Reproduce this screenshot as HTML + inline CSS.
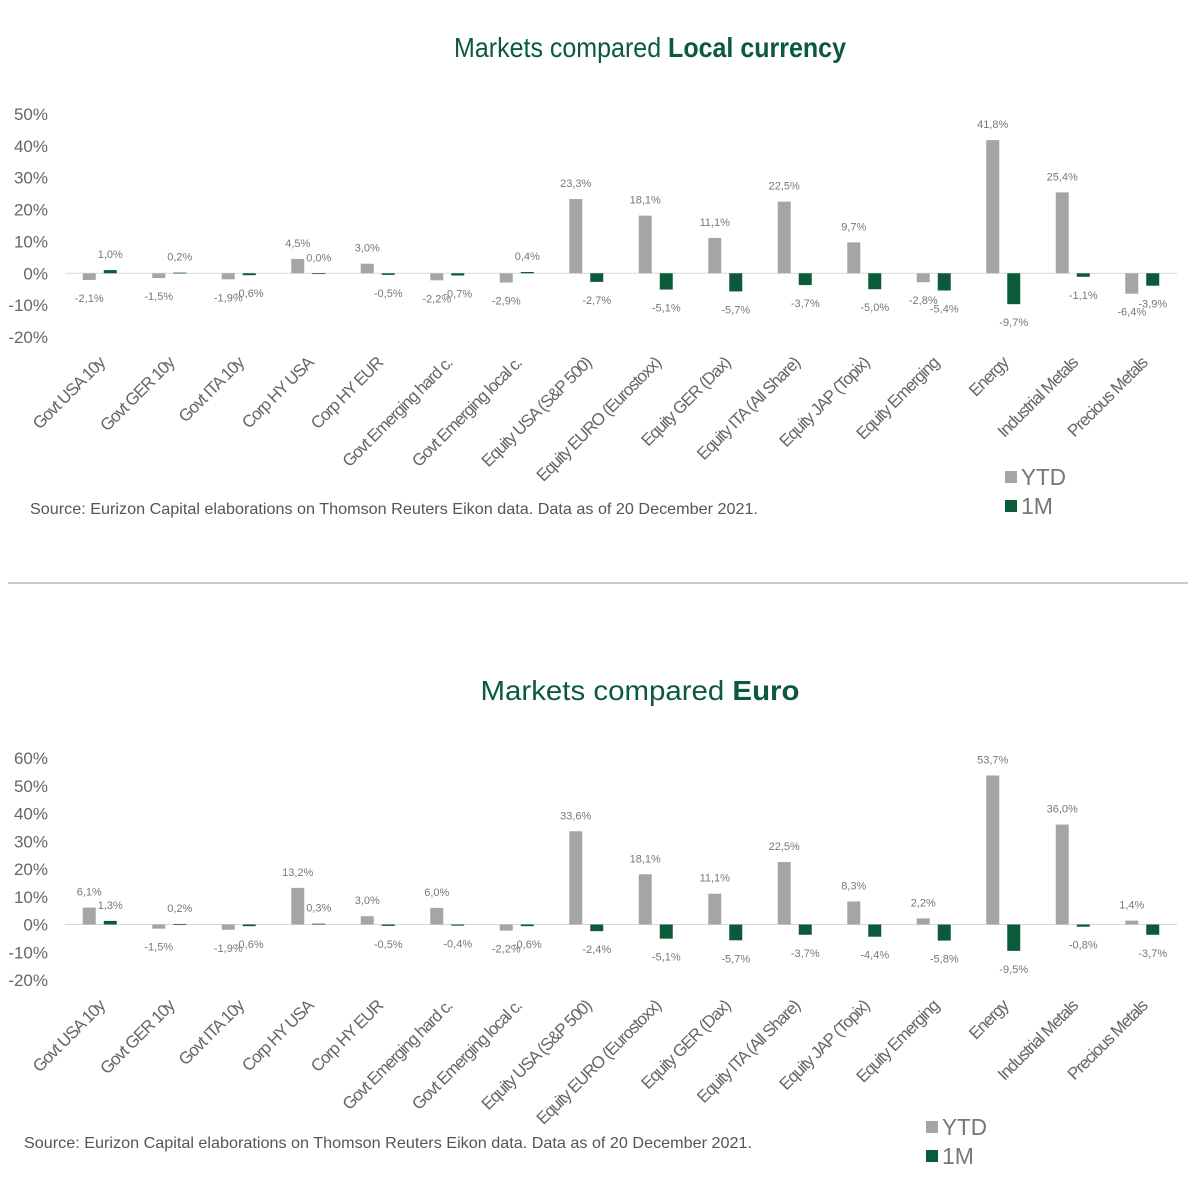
<!DOCTYPE html>
<html><head><meta charset="utf-8"><style>
body{margin:0;background:#fff;}
svg{display:block;font-family:"Liberation Sans",sans-serif;}
</style></head><body>
<svg id="root" width="1200" height="1198" viewBox="0 0 1200 1198">
<text x="650" y="57" text-anchor="middle" font-size="28" fill="#0b5a3a" textLength="392" lengthAdjust="spacingAndGlyphs">Markets compared <tspan font-weight="bold">Local currency</tspan></text>
<text x="640" y="700" text-anchor="middle" font-size="28" fill="#0b5a3a" textLength="319" lengthAdjust="spacingAndGlyphs">Markets compared <tspan font-weight="bold">Euro</tspan></text>
<line x1="8" y1="583" x2="1188" y2="583" stroke="#999" stroke-width="1"/>
<text x="30" y="514" font-size="16" fill="#555" textLength="728" lengthAdjust="spacingAndGlyphs">Source: Eurizon Capital elaborations on Thomson Reuters Eikon data. Data as of 20 December 2021.</text>
<text x="24" y="1148" font-size="16" fill="#555" textLength="728" lengthAdjust="spacingAndGlyphs">Source: Eurizon Capital elaborations on Thomson Reuters Eikon data. Data as of 20 December 2021.</text>
<g>
<rect x="1005" y="471" width="12" height="12" fill="#a5a5a5"/>
<text x="1021" y="485" font-size="23" fill="#777" textLength="45" lengthAdjust="spacingAndGlyphs">YTD</text>
<rect x="1005" y="500" width="12" height="12" fill="#0b5a3a"/>
<text x="1021" y="514" font-size="23" fill="#777">1M</text>
</g>
<g>
<rect x="926" y="1121" width="12" height="12" fill="#a5a5a5"/>
<text x="942" y="1135" font-size="23" fill="#777" textLength="45" lengthAdjust="spacingAndGlyphs">YTD</text>
<rect x="926" y="1150" width="12" height="12" fill="#0b5a3a"/>
<text x="942" y="1164" font-size="23" fill="#777">1M</text>
</g>
</svg>
<script>
const categories = ["Govt USA 10y","Govt GER 10y","Govt ITA 10y","Corp HY USA","Corp HY EUR","Govt Emerging hard c.","Govt Emerging local c.","Equity USA (S&P 500)","Equity EURO (Eurostoxx)","Equity GER (Dax)","Equity ITA (All Share)","Equity JAP (Topix)","Equity Emerging","Energy","Industrial Metals","Precious Metals"];
const localYTD = [-2.1,-1.5,-1.9,4.5,3.0,-2.2,-2.9,23.3,18.1,11.1,22.5,9.7,-2.8,41.8,25.4,-6.4];
const local1M = [1.0,0.2,-0.6,0.0,-0.5,-0.7,0.4,-2.7,-5.1,-5.7,-3.7,-5.0,-5.4,-9.7,-1.1,-3.9];
const euroYTD = [6.1,-1.5,-1.9,13.2,3.0,6.0,-2.2,33.6,18.1,11.1,22.5,8.3,2.2,53.7,36.0,1.4];
const euro1M = [1.3,0.2,-0.6,0.3,-0.5,-0.4,-0.6,-2.4,-5.1,-5.7,-3.7,-4.4,-5.8,-9.5,-0.8,-3.7];
const localTicks = [50,40,30,20,10,0,-10,-20];
const euroTicks = [60,50,40,30,20,10,0,-10,-20];

const NS = "http://www.w3.org/2000/svg";
const root = document.getElementById("root");
function mk(tag, attrs, parent){const e=document.createElementNS(NS,tag);for(const k in attrs)e.setAttribute(k,attrs[k]);parent.appendChild(e);return e;}
function fmt(v){return v.toFixed(1).replace(".",",")+"%";}

function drawChart(name, ytd, m1, ticks, yTop, yBottom){
  const g = mk("g",{},root);
  
  
  const tMax = ticks[0], tMin = ticks[ticks.length-1];
  const y = v => yTop + (tMax - v) / (tMax - tMin) * (yBottom - yTop);
  const x0 = 65, step = 69.5;
  const cx = i => x0 + step * (i + 0.5);
  ticks.forEach(t => {
    const tx = mk("text",{x:48,y:y(t)+6,"text-anchor":"end","font-size":17,fill:"#666"},g);
    tx.textContent = t + "%";
    
    
  });
  const zl = mk("line",{x1:x0,x2:x0+step*categories.length,y1:y(0),y2:y(0),stroke:"#d9d9d9","stroke-width":1},g);
  
  
  const bw = 13;
  function series(vals, off, color, sname){
    vals.forEach((v,i) => {
      const bx = cx(i) + off;
      const y1 = Math.min(y(v), y(0)), h = Math.max(Math.abs(y(v)-y(0)), 0.8);
      const r = mk("rect",{x:bx-bw/2,y:y1,width:bw,height:h,fill:color},g);
      
      
      const ly = v >= 0 ? y(v) - 12 : y(v) + 22;
      const lt = mk("text",{x:bx,y:ly,"text-anchor":"middle","font-size":11,fill:"#777"},g);
      lt.textContent = fmt(v);
      
      
    });
  }
  series(ytd, -10.5, "#a5a5a5", "ytd");
  series(m1, 10.5, "#0b5a3a", "1m");
  categories.forEach((c,i) => {
    const ax = cx(i) + 6, ay = yBottom + 27;
    const ct = mk("text",{x:ax,y:ay,"text-anchor":"end","font-size":17,fill:"#666","letter-spacing":"-1.1",transform:`rotate(-45 ${ax} ${ay})`},g);
    ct.textContent = c;
    
    
  });
}
drawChart("chart-local-currency", localYTD, local1M, localTicks, 114, 337);
drawChart("chart-euro", euroYTD, euro1M, euroTicks, 758, 980);
</script>
</body></html>
